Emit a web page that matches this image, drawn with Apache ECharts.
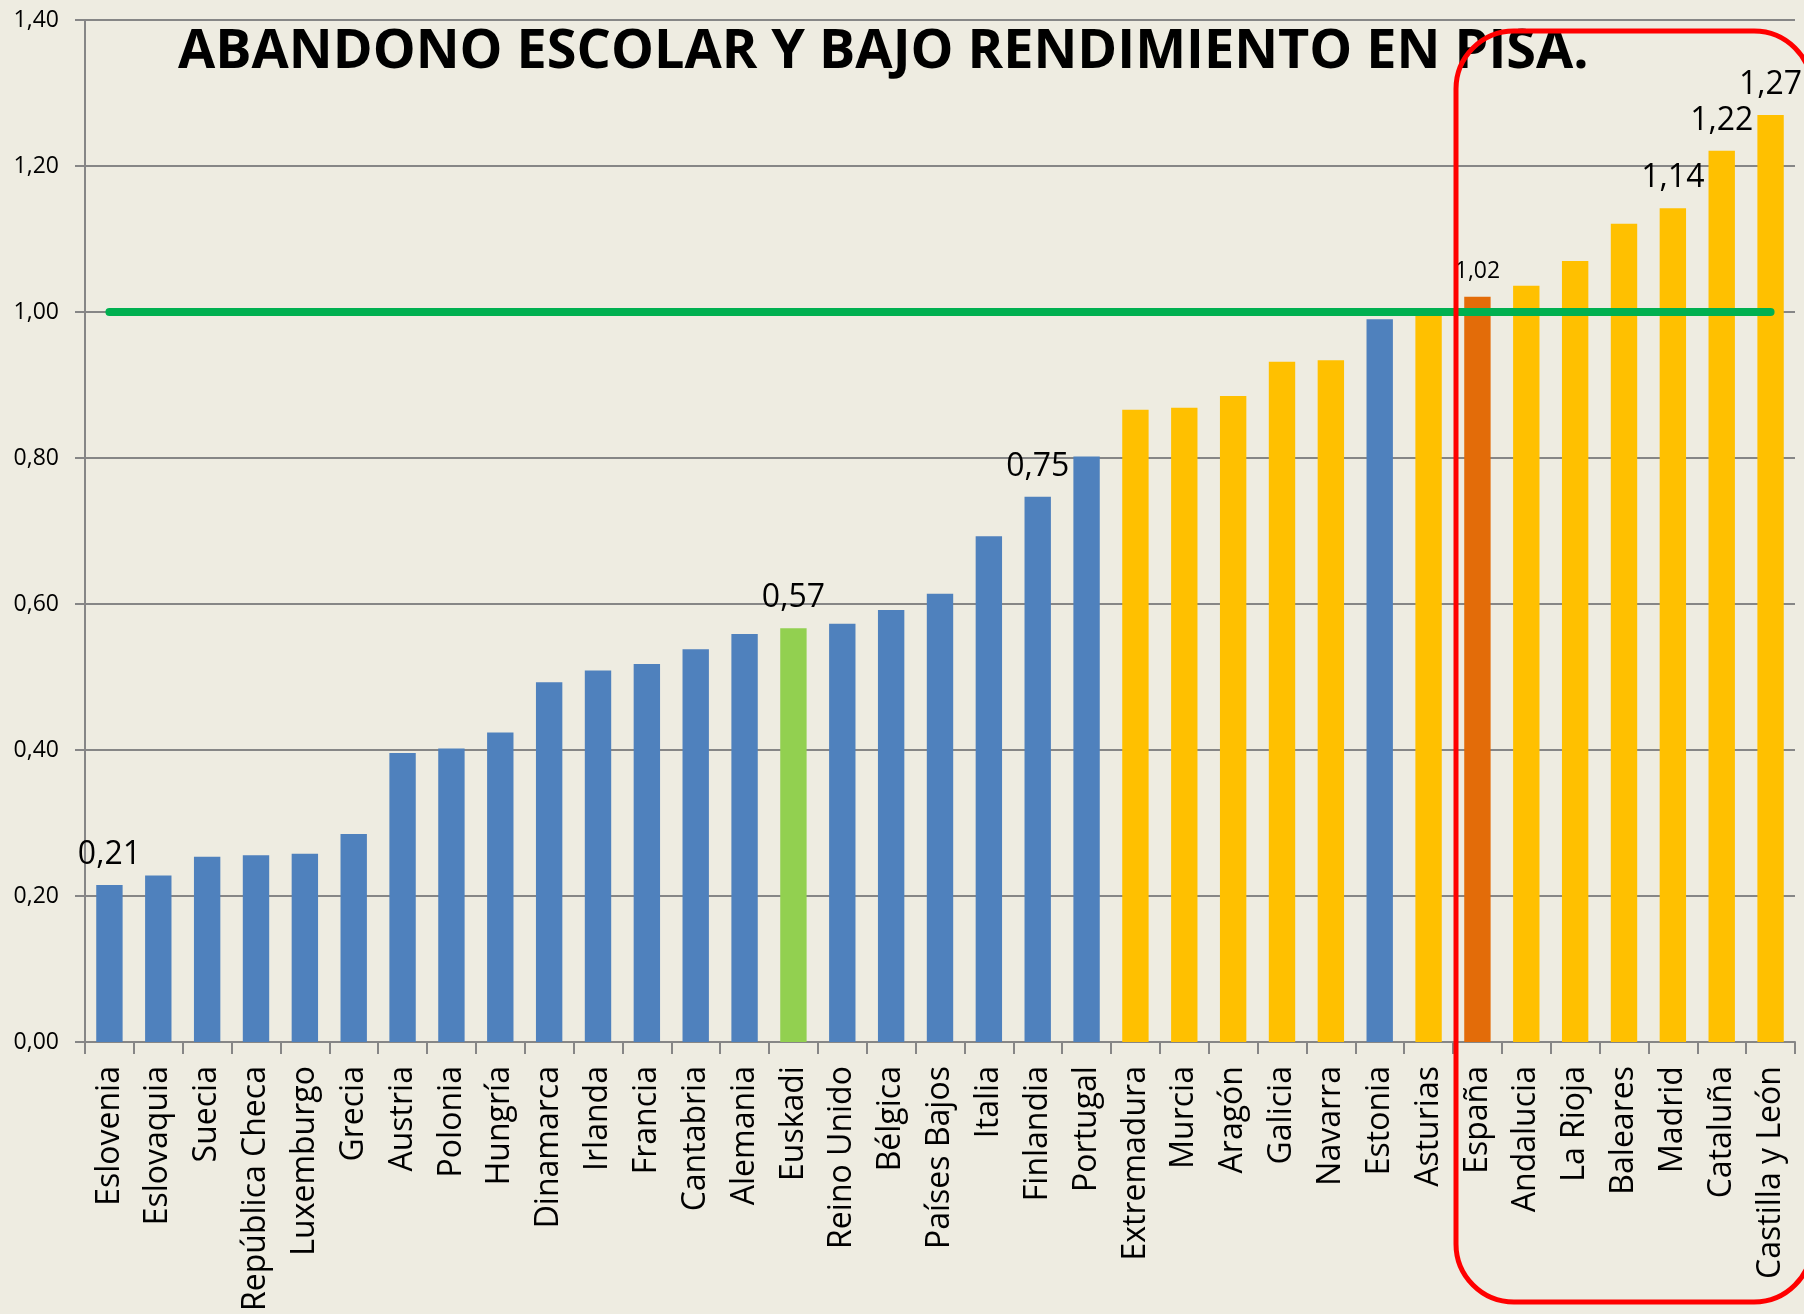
<!DOCTYPE html>
<html>
<head>
<meta charset="utf-8">
<script src="https://cdn.jsdelivr.net/npm/echarts@6/dist/echarts.min.js"></script>
<style>
  html, body { margin: 0; padding: 0; background: #EEECE1; }
  #chart { width: 1804px; height: 1314px; }
</style>
</head>
<body>
<div id="chart"></div>
<script>
var categories = ['Eslovenia', 'Eslovaquia', 'Suecia', 'República Checa', 'Luxemburgo', 'Grecia',
    'Austria', 'Polonia', 'Hungría', 'Dinamarca', 'Irlanda', 'Francia', 'Cantabria', 'Alemania',
    'Euskadi', 'Reino Unido', 'Bélgica', 'Países Bajos', 'Italia', 'Finlandia', 'Portugal',
    'Extremadura', 'Murcia', 'Aragón', 'Galicia', 'Navarra', 'Estonia', 'Asturias', 'España',
    'Andalucia', 'La Rioja', 'Baleares', 'Madrid', 'Cataluña', 'Castilla y León'];

var values = [0.215, 0.228, 0.254, 0.256, 0.258, 0.285, 0.396, 0.402, 0.424, 0.493, 0.509, 0.518,
    0.538, 0.559, 0.567, 0.573, 0.592, 0.614, 0.693, 0.747, 0.802, 0.866, 0.869, 0.885, 0.932,
    0.934, 0.990, 1.000, 1.021, 1.036, 1.070, 1.121, 1.142, 1.221, 1.270];

// tipo de cada barra: p = azul, c = comunidad (amarillo), e = Euskadi, s = España
var groups = ['p', 'p', 'p', 'p', 'p', 'p', 'p', 'p', 'p', 'p', 'p', 'p', 'p', 'p',
    'e', 'p', 'p', 'p', 'p', 'p', 'p', 'c', 'c', 'c', 'c', 'c', 'p', 'c', 's',
    'c', 'c', 'c', 'c', 'c', 'c'];

var labelled = ['Eslovenia', 'Euskadi', 'Finlandia', 'Madrid', 'Cataluña', 'Castilla y León'];
var smallLabelled = ['España'];

var reference = 1.0;
var yTicks = [0, 0.2, 0.4, 0.6, 0.8, 1.0, 1.2, 1.4];

var colors = { p: '#4F81BD', c: '#FFC000', e: '#92D050', s: '#E36C09' };
var FONT = '"Open Sans", sans-serif';

function fmt(v) {
    return v.toFixed(2).replace('.', ',');
}

var chart = echarts.init(document.getElementById('chart'));

var barData = values.map(function (v, i) {
    var item = { value: v, itemStyle: { color: colors[groups[i]] } };
    if (labelled.indexOf(categories[i]) >= 0) {
        item.label = { show: true, fontSize: 32 };
    } else if (smallLabelled.indexOf(categories[i]) >= 0) {
        item.label = { show: true, fontSize: 23 };
    }
    return item;
});

option = {
    backgroundColor: '#EEECE1',
    animation: false,
    title: {
        text: 'ABANDONO ESCOLAR Y BAJO RENDIMIENTO EN PISA.',
        left: 178,
        top: 26,
        padding: 0,
        textStyle: {
            fontFamily: FONT,
            fontWeight: 'bold',
            fontSize: 54,
            color: '#000'
        }
    },
    grid: {
        left: 85,
        right: 9,
        top: 20,
        bottom: 270
    },
    xAxis: {
        type: 'category',
        data: categories,
        axisLine: { lineStyle: { color: '#868686', width: 2 } },
        axisTick: { show: true, length: 12, lineStyle: { color: '#868686', width: 2 } },
        axisLabel: {
            interval: 0,
            rotate: 90,
            margin: 24,
            fontFamily: FONT,
            fontSize: 32,
            color: '#000'
        }
    },
    yAxis: {
        type: 'value',
        min: yTicks[0],
        max: yTicks[yTicks.length - 1],
        interval: 0.2,
        axisLine: { show: true, lineStyle: { color: '#868686', width: 2 } },
        axisTick: { show: true, length: 10, lineStyle: { color: '#868686', width: 2 } },
        splitLine: { lineStyle: { color: '#868686', width: 2 } },
        axisLabel: {
            margin: 26,
            fontFamily: FONT,
            fontSize: 23,
            color: '#000',
            formatter: function (v) { return fmt(v); }
        }
    },
    series: [
        {
            type: 'bar',
            barWidth: '54%',
            data: barData,
            label: {
                show: false,
                position: 'top',
                distance: 14,
                fontFamily: FONT,
                color: '#000',
                formatter: function (p) { return fmt(p.value); }
            }
        },
        {
            type: 'line',
            data: categories.map(function () { return reference; }),
            symbol: 'none',
            z: 5,
            lineStyle: { color: '#00B050', width: 8, cap: 'round' }
        }
    ],
    graphic: [
        {
            type: 'rect',
            z: 100,
            shape: { x: 1456, y: 31, width: 356, height: 1271, r: 58 },
            style: { fill: 'none', stroke: '#FF0000', lineWidth: 5 }
        }
    ]
};

chart.setOption(option);
</script>
</body>
</html>
